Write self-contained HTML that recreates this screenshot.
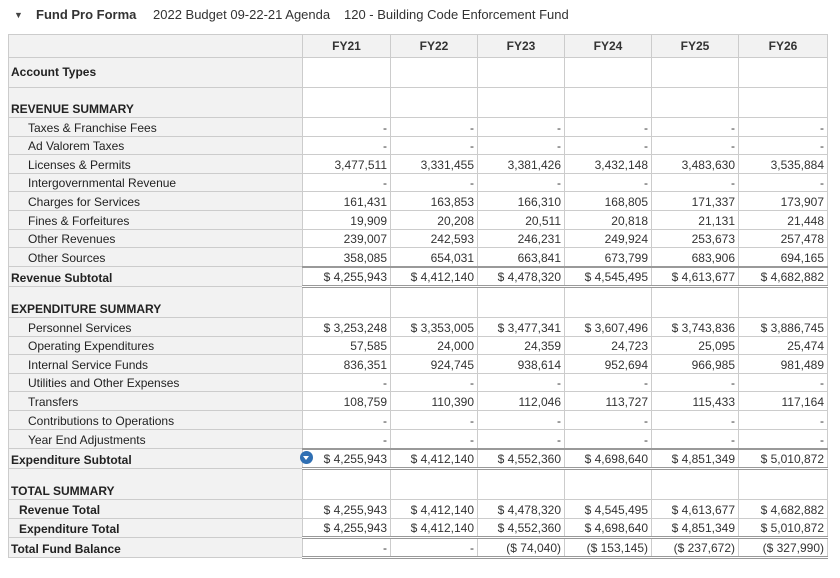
<!DOCTYPE html>
<html><head><meta charset="utf-8"><style>
body{margin:0;background:#fff;font-family:"Liberation Sans",Arial,sans-serif;color:#222;width:840px;height:578px;overflow:hidden;position:relative}
.top{position:absolute;top:7px;left:14px;font-size:13px;white-space:nowrap;color:#333}
.top span{position:absolute;top:0}
table{position:absolute;left:8px;top:34px;border-collapse:collapse;table-layout:fixed;font-size:12px}
td{border:1px solid #ccc;padding:0 3px;white-space:nowrap;overflow:hidden;text-align:right;vertical-align:bottom;padding-bottom:1px;color:#333}
td.l{background:#f2f2f2;text-align:left;padding-left:2px;color:#222}
td.i{padding-left:19px}
tr.h td{background:#f2f2f2;font-weight:bold;text-align:center;vertical-align:top;padding-top:4px}
.b{font-weight:bold}
tr.s td:not(.l){border-top:2px solid #999;border-bottom:3px double #999}
tr.t td:not(.l){border-bottom:3px double #999}
.ic{position:absolute;left:300px;top:451px;width:13px;height:13px;border-radius:50%;background:#2f6fb3}
.ic:after{content:"";position:absolute;left:3px;top:5px;border-left:3.5px solid transparent;border-right:3.5px solid transparent;border-top:4px solid #fff}
</style></head><body>
<div class="top"><span style="left:0;font-size:9px;top:3px;color:#444">&#9660;</span><span style="left:22px;font-weight:bold">Fund Pro Forma</span><span style="left:139px">2022 Budget 09-22-21 Agenda</span><span style="left:330px">120 - Building Code Enforcement Fund</span></div>
<table>
<colgroup><col style="width:294px"><col style="width:88px"><col style="width:87px"><col style="width:87px"><col style="width:87px"><col style="width:87px"><col style="width:89px"></colgroup>
<tr class="h" style="height:23px"><td></td><td>FY21</td><td>FY22</td><td>FY23</td><td>FY24</td><td>FY25</td><td>FY26</td></tr>
<tr style="height:30px"><td class="l b" style="vertical-align:middle">Account Types</td><td></td><td></td><td></td><td></td><td></td><td></td></tr>
<tr style="height:30px"><td class="l b">REVENUE SUMMARY</td><td></td><td></td><td></td><td></td><td></td><td></td></tr>
<tr style="height:19px"><td class="l i">Taxes &amp; Franchise Fees</td><td>-</td><td>-</td><td>-</td><td>-</td><td>-</td><td>-</td></tr>
<tr style="height:18px"><td class="l i">Ad Valorem Taxes</td><td>-</td><td>-</td><td>-</td><td>-</td><td>-</td><td>-</td></tr>
<tr style="height:19px"><td class="l i">Licenses &amp; Permits</td><td>3,477,511</td><td>3,331,455</td><td>3,381,426</td><td>3,432,148</td><td>3,483,630</td><td>3,535,884</td></tr>
<tr style="height:18px"><td class="l i">Intergovernmental Revenue</td><td>-</td><td>-</td><td>-</td><td>-</td><td>-</td><td>-</td></tr>
<tr style="height:19px"><td class="l i">Charges for Services</td><td>161,431</td><td>163,853</td><td>166,310</td><td>168,805</td><td>171,337</td><td>173,907</td></tr>
<tr style="height:19px"><td class="l i">Fines &amp; Forfeitures</td><td>19,909</td><td>20,208</td><td>20,511</td><td>20,818</td><td>21,131</td><td>21,448</td></tr>
<tr style="height:18px"><td class="l i">Other Revenues</td><td>239,007</td><td>242,593</td><td>246,231</td><td>249,924</td><td>253,673</td><td>257,478</td></tr>
<tr style="height:19px"><td class="l i">Other Sources</td><td>358,085</td><td>654,031</td><td>663,841</td><td>673,799</td><td>683,906</td><td>694,165</td></tr>
<tr class="s" style="height:20px"><td class="l b">Revenue Subtotal</td><td>$ 4,255,943</td><td>$ 4,412,140</td><td>$ 4,478,320</td><td>$ 4,545,495</td><td>$ 4,613,677</td><td>$ 4,682,882</td></tr>
<tr style="height:31px"><td class="l b">EXPENDITURE SUMMARY</td><td></td><td></td><td></td><td></td><td></td><td></td></tr>
<tr style="height:19px"><td class="l i">Personnel Services</td><td>$ 3,253,248</td><td>$ 3,353,005</td><td>$ 3,477,341</td><td>$ 3,607,496</td><td>$ 3,743,836</td><td>$ 3,886,745</td></tr>
<tr style="height:18px"><td class="l i">Operating Expenditures</td><td>57,585</td><td>24,000</td><td>24,359</td><td>24,723</td><td>25,095</td><td>25,474</td></tr>
<tr style="height:19px"><td class="l i">Internal Service Funds</td><td>836,351</td><td>924,745</td><td>938,614</td><td>952,694</td><td>966,985</td><td>981,489</td></tr>
<tr style="height:18px"><td class="l i">Utilities and Other Expenses</td><td>-</td><td>-</td><td>-</td><td>-</td><td>-</td><td>-</td></tr>
<tr style="height:19px"><td class="l i">Transfers</td><td>108,759</td><td>110,390</td><td>112,046</td><td>113,727</td><td>115,433</td><td>117,164</td></tr>
<tr style="height:19px"><td class="l i">Contributions to Operations</td><td>-</td><td>-</td><td>-</td><td>-</td><td>-</td><td>-</td></tr>
<tr style="height:19px"><td class="l i">Year End Adjustments</td><td>-</td><td>-</td><td>-</td><td>-</td><td>-</td><td>-</td></tr>
<tr class="s" style="height:20px"><td class="l b">Expenditure Subtotal</td><td>$ 4,255,943</td><td>$ 4,412,140</td><td>$ 4,552,360</td><td>$ 4,698,640</td><td>$ 4,851,349</td><td>$ 5,010,872</td></tr>
<tr style="height:31px"><td class="l b">TOTAL SUMMARY</td><td></td><td></td><td></td><td></td><td></td><td></td></tr>
<tr style="height:19px"><td class="l b" style="padding-left:10px">Revenue Total</td><td>$ 4,255,943</td><td>$ 4,412,140</td><td>$ 4,478,320</td><td>$ 4,545,495</td><td>$ 4,613,677</td><td>$ 4,682,882</td></tr>
<tr class="t" style="height:19px"><td class="l b" style="padding-left:10px">Expenditure Total</td><td>$ 4,255,943</td><td>$ 4,412,140</td><td>$ 4,552,360</td><td>$ 4,698,640</td><td>$ 4,851,349</td><td>$ 5,010,872</td></tr>
<tr class="t" style="height:20px"><td class="l b">Total Fund Balance</td><td>-</td><td>-</td><td>($ 74,040)</td><td>($ 153,145)</td><td>($ 237,672)</td><td>($ 327,990)</td></tr>
</table>
<div class="ic"></div>
</body></html>
